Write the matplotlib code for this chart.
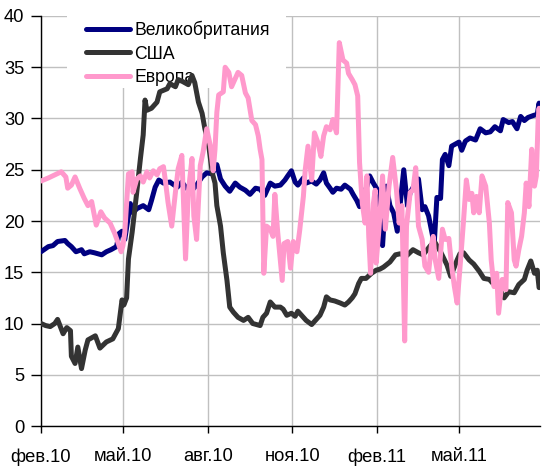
import matplotlib
matplotlib.use('Agg')
import matplotlib.pyplot as plt
from matplotlib import font_manager
from matplotlib.patches import Rectangle
import pandas as pd

start = pd.Timestamp('2010-02-01')

# days since 2010-02-01 and values
uk_days = [0, 8, 13, 18, 26, 29, 33, 38, 44, 47, 53, 58, 66, 71, 76, 82, 85, 88, 91, 97, 100, 104, 111, 117,
           120, 124, 128, 133, 140, 148, 153, 158, 164, 169, 175, 180, 186, 191, 195, 200, 205, 211, 216, 222,
           227, 233, 238, 243, 249, 254, 260, 265, 268, 272, 276, 279, 285, 288, 294, 299, 303, 307, 310, 314,
           317, 321, 326, 330, 336, 339, 343, 346, 350, 354, 357, 361, 365, 368, 371, 375, 379, 383, 387, 391,
           394, 398, 401, 407, 410, 414, 417, 421, 425, 427, 430, 434, 436, 439, 443, 446, 450, 454, 457, 461,
           466, 472, 477, 483, 488, 493, 499, 502, 508, 512, 517, 521, 525, 529, 535, 539, 541, 542]
uk_vals = [17.0, 17.5, 17.6, 18.0, 18.1, 17.8, 17.5, 17.0, 17.2, 16.8, 17.0, 16.9, 16.7, 17.0, 17.2, 17.5, 18.8,
           19.0, 18.2, 21.7, 20.8, 21.2, 21.5, 21.1, 22.0, 23.3, 24.0, 23.7, 23.8, 23.3, 23.8, 23.2, 23.0, 23.5,
           24.3, 24.7, 24.6, 25.5, 24.1, 23.4, 22.9, 23.7, 23.3, 23.0, 22.6, 23.2, 23.1, 22.5, 23.7, 23.4, 23.5,
           24.0, 24.4, 24.9, 23.8, 23.5, 24.2, 23.7, 23.9, 23.6, 24.0, 24.7, 23.7, 23.2, 22.8, 23.2, 23.1, 23.5,
           23.1, 22.6, 22.0, 21.4, 22.4, 23.4, 24.4, 23.7, 23.1, 20.2, 17.6, 23.4, 21.5, 20.8, 19.0, 22.4, 25.0,
           21.5, 22.8, 23.7, 24.1, 21.1, 21.4, 20.5, 18.7, 17.6, 22.3, 22.2, 26.0, 26.5, 25.4, 27.3, 27.5, 27.7,
           26.9, 27.8, 28.1, 27.9, 29.0, 28.6, 28.7, 29.2, 28.8, 29.9, 29.6, 29.7, 29.0, 30.2, 29.8, 30.1, 30.3,
           30.4, 31.5, 30.8]

us_days = [0, 5, 10, 15, 18, 24, 28, 32, 33, 37, 40, 44, 48, 51, 59, 64, 71, 78, 84, 88, 90, 93, 95, 99, 104,
           108, 111, 113, 115, 120, 126, 129, 137, 140, 146, 149, 154, 160, 164, 167, 171, 175, 178, 182, 186,
           189, 191, 195, 198, 202, 205, 209, 214, 220, 225, 230, 238, 241, 245, 249, 254, 260, 263, 267, 272,
           276, 279, 283, 288, 294, 297, 303, 307, 310, 314, 319, 325, 330, 334, 338, 341, 345, 348, 353, 359,
           364, 368, 372, 379, 385, 390, 397, 404, 410, 415, 423, 428, 434, 441, 445, 452, 455, 459, 465, 470,
           476, 481, 487, 492, 497, 503, 508, 514, 519, 525, 528, 532, 536, 539, 541]
us_vals = [10.0, 9.8, 9.7, 10.0, 10.4, 9.0, 9.6, 9.3, 6.8, 6.1, 7.7, 5.6, 7.4, 8.4, 8.8, 7.6, 8.2, 8.5, 9.5, 12.3,
           11.8, 12.5, 16.3, 18.9, 22.8, 26.1, 28.4, 31.8, 30.8, 31.0, 31.6, 32.6, 32.9, 33.4, 33.1, 33.8, 33.6,
           33.3, 34.2, 33.5, 31.6, 30.5, 29.0, 27.5, 24.7, 23.7, 21.5, 19.5, 16.9, 14.2, 11.6, 11.1, 10.6, 10.3,
           10.6, 10.0, 9.8, 10.6, 11.0, 12.1, 11.6, 11.6, 11.4, 10.8, 11.0, 10.7, 11.2, 10.8, 10.3, 9.9, 10.2,
           10.8, 11.6, 12.6, 12.3, 12.2, 12.0, 11.8, 12.1, 12.5, 12.9, 13.9, 14.4, 14.4, 14.9, 15.2, 15.3, 15.5,
           16.0, 16.7, 16.8, 16.6, 17.2, 16.9, 16.7, 17.6, 17.9, 17.0, 15.7, 14.6, 16.2, 16.8, 16.9, 16.2, 15.8,
           15.1, 14.4, 14.3, 13.8, 13.6, 12.5, 13.1, 13.0, 13.8, 14.3, 15.2, 16.1, 14.9, 15.2, 13.5]

eu_days = [0, 8, 15, 22, 27, 29, 33, 37, 42, 47, 51, 55, 60, 65, 69, 75, 80, 84, 87, 89, 91, 95, 99, 100, 104,
           108, 111, 115, 118, 122, 126, 129, 133, 135, 138, 142, 146, 149, 153, 157, 160, 164, 166, 169, 173,
           176, 180, 184, 187, 189, 191, 193, 198, 200, 204, 207, 211, 214, 218, 222, 225, 229, 233, 236, 238,
           240, 242, 245, 249, 252, 254, 257, 262, 264, 268, 271, 274, 278, 281, 285, 287, 290, 294, 297, 301,
           304, 307, 310, 314, 317, 321, 324, 328, 332, 334, 338, 341, 344, 346, 349, 352, 354, 356, 358, 361,
           363, 364, 367, 371, 374, 378, 382, 386, 389, 392, 395, 397, 401, 404, 407, 410, 414, 417, 421, 424,
           426, 428, 432, 436, 439, 443, 446, 449, 452, 456, 459, 462, 465, 468, 470, 473, 476, 479, 483, 487,
           489, 492, 495, 497, 501, 505, 507, 511, 514, 516, 519, 522, 525, 527, 530, 533, 536, 538, 540, 541,
           542]
eu_vals = [23.9, 24.2, 24.5, 24.8, 24.3, 23.2, 23.5, 24.3, 23.2, 22.2, 21.5, 21.9, 19.6, 20.9, 20.3, 19.8, 18.8,
           17.8, 17.0, 17.6, 18.9, 24.6, 24.8, 22.8, 24.1, 24.4, 23.8, 24.8, 24.2, 24.9, 24.5, 25.1, 25.3, 24.0,
           21.8, 19.5, 22.8, 25.1, 26.4, 16.3, 22.8, 26.1, 20.5, 18.2, 25.4, 26.7, 29.0, 27.3, 24.9, 27.0, 30.6,
           32.3, 32.6, 35.0, 34.5, 33.1, 33.9, 34.5, 34.2, 32.5, 32.0, 29.8, 29.4, 28.3, 27.0, 26.0, 14.9, 19.5,
           19.2, 18.5, 22.6, 19.0, 14.2, 17.8, 18.0, 15.4, 18.0, 17.0, 19.1, 22.4, 25.0, 27.3, 24.0, 28.6, 27.6,
           26.3, 28.3, 29.2, 28.9, 29.9, 28.6, 37.4, 35.7, 35.4, 34.4, 33.8, 33.3, 32.2, 25.7, 21.7, 19.8, 24.4,
           18.5, 14.9, 21.7, 23.0, 15.9, 19.1, 24.4, 19.2, 23.4, 26.2, 23.1, 19.8, 21.5, 8.3, 19.5, 22.8, 23.0,
           25.2, 19.5, 18.2, 15.6, 15.0, 17.6, 18.5, 16.3, 14.4, 19.2, 18.2, 18.3, 15.6, 13.6, 12.0, 16.5, 20.1,
           24.0, 22.1, 22.7, 20.8, 22.4, 20.8, 24.4, 23.4, 19.8, 16.2, 13.6, 14.9, 11.0, 14.3, 13.3, 21.8, 20.8,
           16.2, 15.6, 17.2, 18.5, 20.8, 23.7, 21.4, 27.0, 23.4, 24.4, 29.9, 31.0, 30.0]

series_names = ['Великобритания', 'США', 'Европа']
series_colors = ['#000080', '#333333', '#FF99CC']

tick_dates = ['2010-02-01', '2010-05-01', '2010-08-01', '2010-11-01', '2011-02-01', '2011-05-01']
tick_labels = ['фев.10', 'май.10', 'авг.10', 'ноя.10', 'фев.11', 'май.11']
y_ticks = [0, 5, 10, 15, 20, 25, 30, 35, 40]
end_day = 542


def to_dates(days):
    return start + pd.to_timedelta(days, unit='D')


plt.rcParams['font.family'] = ['Liberation Sans', 'DejaVu Sans']
installed = {f.name for f in font_manager.fontManager.ttflist}
if 'Liberation Sans Narrow' in installed:
    tick_family = ['Liberation Sans Narrow', 'DejaVu Sans']
    tick_size = 14.5
else:
    tick_family = ['Liberation Sans', 'DejaVu Sans']
    tick_size = 13.2

fig = plt.figure(figsize=(5.42, 4.73), dpi=100)
ax = fig.add_axes([41 / 542, 1 - 426 / 473, 499 / 542, 410 / 473])

data = [(uk_days, uk_vals), (us_days, us_vals), (eu_days, eu_vals)]
lines = []
for (d, v), name, c in zip(data, series_names, series_colors):
    ln, = ax.plot(to_dates(d), v, color=c, lw=3.6, label=name,
                  solid_joinstyle='round', solid_capstyle='round', zorder=3)
    lines.append(ln)

ax.set_xlim(start, start + pd.Timedelta(days=end_day))
ax.set_ylim(0, 40)
ax.set_yticks(y_ticks)
ax.set_yticklabels([str(t) for t in y_ticks])
ax.set_xticks(pd.to_datetime(tick_dates))
ax.set_xticklabels(tick_labels)
for lab in ax.get_xticklabels() + ax.get_yticklabels():
    lab.set_family(tick_family)
    lab.set_size(tick_size)

ax.set_axisbelow(True)
ax.grid(True, color='#C0C0C0', lw=1.0)
for s in ['top', 'right']:
    ax.spines[s].set_visible(False)
for s in ['left', 'bottom']:
    ax.spines[s].set_color('black')
    ax.spines[s].set_linewidth(1.0)

ax.tick_params(axis='y', direction='out', length=7, width=1, pad=5)
ax.tick_params(axis='x', direction='out', length=5, width=1, pad=11)

# white legend area hiding gridlines (lines drawn over it)
bx0 = (67 - 41) / 499
bx1 = (286 - 41) / 499
by0 = (426 - 88) / 410
by1 = (426 - 2) / 410
ax.add_patch(Rectangle((bx0, by0), bx1 - bx0, by1 - by0, transform=ax.transAxes,
                       facecolor='white', edgecolor='none', zorder=1, clip_on=False))

leg = ax.legend(handles=lines, loc='upper left', bbox_to_anchor=((86 - 41) / 499, (426 - 21) / 410),
                frameon=False, fontsize=12.7, handlelength=2.5, handletextpad=0.25,
                labelspacing=0.36, borderpad=0, borderaxespad=0)
leg.set_zorder(2)

fig.savefig('out.png', dpi=100)
